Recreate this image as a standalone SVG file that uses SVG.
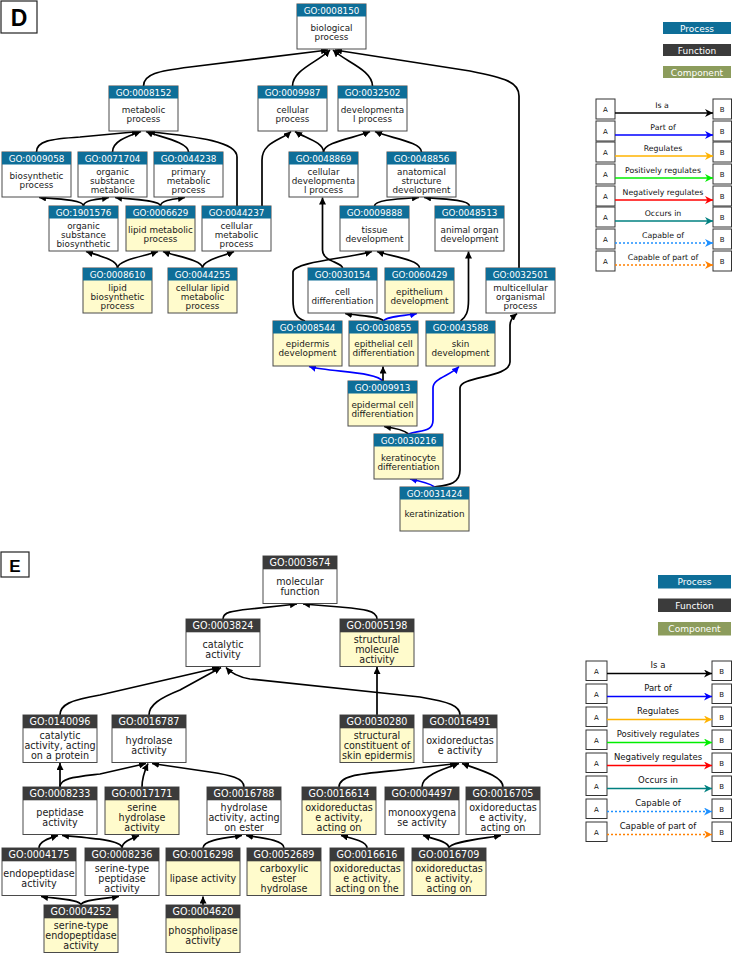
<svg xmlns="http://www.w3.org/2000/svg" width="733" height="960" viewBox="0 0 733 960">
<style>
.bg{fill:#fff}
.nw{fill:#fff;stroke:#4a4a4a;stroke-width:1}
.ny{fill:#fffbcc;stroke:#4a4a4a;stroke-width:1}
.hp{fill:#0e6e98}
.hf{fill:#3b3b3b}
.ht{font-family:"DejaVu Sans",sans-serif;font-size:8.8px;fill:#fff;text-anchor:middle}
.bt{font-family:"DejaVu Sans",sans-serif;font-size:8.8px;fill:#1a1a1a;text-anchor:middle}
.E .ht,.E .bt{font-size:9.6px}
.ed{fill:none;stroke:#000;stroke-width:1.7}
.ed.p{stroke:#0000ff}
.pl{font-family:"Liberation Sans",Arial,sans-serif;font-weight:bold;fill:#000;text-anchor:middle}
.pb{fill:#fff;stroke:#222;stroke-width:1.2}
.lg{font-family:"DejaVu Sans",sans-serif;fill:#fff;text-anchor:middle;font-size:9px}
.ab{fill:#fff;stroke:#333;stroke-width:1}
.abt{font-family:"DejaVu Sans",sans-serif;font-size:7px;fill:#111;text-anchor:middle}
.ll{font-family:"DejaVu Sans",sans-serif;fill:#111;text-anchor:middle}
.ln{fill:none;stroke-width:1.6}
</style>
<defs>
<marker id="mk" viewBox="0 0 10 10" refX="10" refY="5" markerWidth="7" markerHeight="7" markerUnits="userSpaceOnUse" orient="auto"><path d="M0,0 L10,5 L0,10 z" fill="#000"/></marker>
<marker id="mb" viewBox="0 0 10 10" refX="10" refY="5" markerWidth="7" markerHeight="7" markerUnits="userSpaceOnUse" orient="auto"><path d="M0,0 L10,5 L0,10 z" fill="#0000ff"/></marker>
<marker id="l0" viewBox="0 0 10 10" refX="10" refY="5" markerWidth="9" markerHeight="8" markerUnits="userSpaceOnUse" orient="auto"><path d="M0,0 L10,5 L0,10 L3,5 z" fill="#000"/></marker>
<marker id="l1" viewBox="0 0 10 10" refX="10" refY="5" markerWidth="9" markerHeight="8" markerUnits="userSpaceOnUse" orient="auto"><path d="M0,0 L10,5 L0,10 L3,5 z" fill="#0000ff"/></marker>
<marker id="l2" viewBox="0 0 10 10" refX="10" refY="5" markerWidth="9" markerHeight="8" markerUnits="userSpaceOnUse" orient="auto"><path d="M0,0 L10,5 L0,10 L3,5 z" fill="#ffb300"/></marker>
<marker id="l3" viewBox="0 0 10 10" refX="10" refY="5" markerWidth="9" markerHeight="8" markerUnits="userSpaceOnUse" orient="auto"><path d="M0,0 L10,5 L0,10 L3,5 z" fill="#00ee00"/></marker>
<marker id="l4" viewBox="0 0 10 10" refX="10" refY="5" markerWidth="9" markerHeight="8" markerUnits="userSpaceOnUse" orient="auto"><path d="M0,0 L10,5 L0,10 L3,5 z" fill="#ff0000"/></marker>
<marker id="l5" viewBox="0 0 10 10" refX="10" refY="5" markerWidth="9" markerHeight="8" markerUnits="userSpaceOnUse" orient="auto"><path d="M0,0 L10,5 L0,10 L3,5 z" fill="#008080"/></marker>
<marker id="l6" viewBox="0 0 10 10" refX="10" refY="5" markerWidth="9" markerHeight="8" markerUnits="userSpaceOnUse" orient="auto"><path d="M0,0 L10,5 L0,10 L3,5 z" fill="#1e90ff"/></marker>
<marker id="l7" viewBox="0 0 10 10" refX="10" refY="5" markerWidth="9" markerHeight="8" markerUnits="userSpaceOnUse" orient="auto"><path d="M0,0 L10,5 L0,10 L3,5 z" fill="#ff8000"/></marker>
</defs>
<rect class="bg" x="0" y="0" width="733" height="960"/>

<!-- Panel labels -->
<g id="labelD"><rect class="pb" x="1" y="1" width="36" height="32"/><text class="pl" x="19" y="26" font-size="23">D</text></g>
<g id="labelE"><rect class="pb" x="1" y="552" width="28" height="25"/><text class="pl" x="15" y="571.5" font-size="17">E</text></g>

<!-- ===== Panel D connectors ===== -->
<g id="edgesD">
<path class="ed" marker-end="url(#mk)" d="M143.5,86 C143.5,74 158,71 190,67 L328,50"/>
<path class="ed" marker-end="url(#mk)" d="M292.5,86 C292.5,70 318,62 330,50"/>
<path class="ed" marker-end="url(#mk)" d="M372.5,86 C372.5,70 346,62 333,50"/>
<path class="ed" marker-end="url(#mk)" d="M519,268 L519,96 C519,82 505,78 470,71 L335,50"/>
<path class="ed" marker-end="url(#mk)" d="M36.5,152 C36.5,141 50,139 80,137 L139,131.5"/>
<path class="ed" marker-end="url(#mk)" d="M112.5,152 C112.5,142 125,137 141,131.5"/>
<path class="ed" marker-end="url(#mk)" d="M188.5,152 C188.5,142 160,137 146,131.5"/>
<path class="ed" marker-end="url(#mk)" d="M237,206 L237,157 C237,142 200,137 148,131.5"/>
<path class="ed" marker-end="url(#mk)" d="M262,206 L262,160 C262,142 282,140 291,131.5"/>
<path class="ed" marker-end="url(#mk)" d="M323.5,152 C323.5,142 305,138 295,131.5"/>
<path class="ed" marker-end="url(#mk)" d="M323.5,152 C323.5,142 355,138 370,131.5"/>
<path class="ed" marker-end="url(#mk)" d="M421.5,152 C421.5,142 390,138 375,131.5"/>
<path class="ed" marker-end="url(#mk)" d="M374.5,206 C374.5,200 396,199 419,197.5"/>
<path class="ed" marker-end="url(#mk)" d="M469.5,206 C469.5,200 446,199 424,197.5"/>
<path class="ed" marker-end="url(#mk)" d="M83.5,206 C83.5,200 60,199 39,197.5"/>
<path class="ed" marker-end="url(#mk)" d="M83.5,206 C83.5,200 98,199 109,197.5"/>
<path class="ed" marker-end="url(#mk)" d="M160.5,206 C160.5,200 130,199 115,197.5"/>
<path class="ed" marker-end="url(#mk)" d="M160.5,206 C160.5,200 174,199 185,197.5"/>
<path class="ed" marker-end="url(#mk)" d="M117.5,268 C117.5,260 100,256 86,251.5"/>
<path class="ed" marker-end="url(#mk)" d="M117.5,268 C117.5,260 145,256 158,251.5"/>
<path class="ed" marker-end="url(#mk)" d="M202.5,268 C202.5,260 175,256 163,251.5"/>
<path class="ed" marker-end="url(#mk)" d="M202.5,268 C202.5,260 224,256 234,251.5"/>
<path class="ed" marker-end="url(#mk)" d="M342.5,268 C342.5,262 322.5,262 322.5,250 L322.5,197.5"/>
<path class="ed" marker-end="url(#mk)" d="M305,321 C296,318 293,312 293,300 L293,272 C293,262 350,258 372,251.5"/>
<path class="ed" marker-end="url(#mk)" d="M419.5,268 C419.5,260 390,256 377,251.5"/>
<path class="ed" marker-end="url(#mk)" d="M383.5,321 C380,316 360,316 345,313.5"/>
<path class="ed p" marker-end="url(#mb)" d="M383.5,321 C387,316 405,316 417,313.5"/>
<path class="ed" marker-end="url(#mk)" d="M460.5,321 C466,317 468.5,312 468.5,300 L468.5,251.5"/>
<path class="ed p" marker-end="url(#mb)" d="M382.5,381 C378,372 330,372 309,366.5"/>
<path class="ed" marker-end="url(#mk)" d="M383,381 L383,366.5"/>
<path class="ed" marker-end="url(#mk)" d="M408.5,434 C404,430 395,428 384,426.5"/>
<path class="ed p" marker-end="url(#mb)" d="M408.5,434 C419,430 433,433 433,420 L433,388 C433,378 450,376 459,366.5"/>
<path class="ed p" marker-end="url(#mb)" d="M434.5,487 C430,483 420,481 410,479"/>
<path class="ed" marker-end="url(#mk)" d="M434.5,487 C448,485 460,484 460,470 L460,388 C460,376 510,378 510,362 L510,325 C510,319 514,316 517,313.5"/>
</g>

<!-- ===== Panel D nodes ===== -->
<g id="GO0008150"><rect class="nw" x="297" y="4" width="69" height="45"/><rect class="hp" x="297" y="4" width="69" height="12.5"/><text class="ht" x="331.5" y="13.5">GO:0008150</text><text class="bt"><tspan x="331.5" y="31.4">biological</tspan><tspan x="331.5" y="40.4">process</tspan></text></g>
<g id="GO0008152"><rect class="nw" x="109" y="86" width="69" height="45"/><rect class="hp" x="109" y="86" width="69" height="12.5"/><text class="ht" x="143.5" y="95.5">GO:0008152</text><text class="bt"><tspan x="143.5" y="113.4">metabolic</tspan><tspan x="143.5" y="122.4">process</tspan></text></g>
<g id="GO0009987"><rect class="nw" x="258" y="86" width="69" height="45"/><rect class="hp" x="258" y="86" width="69" height="12.5"/><text class="ht" x="292.5" y="95.5">GO:0009987</text><text class="bt"><tspan x="292.5" y="113.4">cellular</tspan><tspan x="292.5" y="122.4">process</tspan></text></g>
<g id="GO0032502"><rect class="nw" x="338" y="86" width="69" height="45"/><rect class="hp" x="338" y="86" width="69" height="12.5"/><text class="ht" x="372.5" y="95.5">GO:0032502</text><text class="bt"><tspan x="372.5" y="113.4">developmenta</tspan><tspan x="372.5" y="122.4">l process</tspan></text></g>
<g id="GO0009058"><rect class="nw" x="2" y="152" width="69" height="45"/><rect class="hp" x="2" y="152" width="69" height="12.5"/><text class="ht" x="36.5" y="161.5">GO:0009058</text><text class="bt"><tspan x="36.5" y="179.4">biosynthetic</tspan><tspan x="36.5" y="188.4">process</tspan></text></g>
<g id="GO0071704"><rect class="nw" x="78" y="152" width="69" height="45"/><rect class="hp" x="78" y="152" width="69" height="12.5"/><text class="ht" x="112.5" y="161.5">GO:0071704</text><text class="bt"><tspan x="112.5" y="174.9">organic</tspan><tspan x="112.5" y="183.9">substance</tspan><tspan x="112.5" y="192.9">metabolic</tspan></text></g>
<g id="GO0044238"><rect class="nw" x="154" y="152" width="69" height="45"/><rect class="hp" x="154" y="152" width="69" height="12.5"/><text class="ht" x="188.5" y="161.5">GO:0044238</text><text class="bt"><tspan x="188.5" y="174.9">primary</tspan><tspan x="188.5" y="183.9">metabolic</tspan><tspan x="188.5" y="192.9">process</tspan></text></g>
<g id="GO0048869"><rect class="nw" x="289" y="152" width="69" height="45"/><rect class="hp" x="289" y="152" width="69" height="12.5"/><text class="ht" x="323.5" y="161.5">GO:0048869</text><text class="bt"><tspan x="323.5" y="174.9">cellular</tspan><tspan x="323.5" y="183.9">developmenta</tspan><tspan x="323.5" y="192.9">l process</tspan></text></g>
<g id="GO0048856"><rect class="nw" x="387" y="152" width="69" height="45"/><rect class="hp" x="387" y="152" width="69" height="12.5"/><text class="ht" x="421.5" y="161.5">GO:0048856</text><text class="bt"><tspan x="421.5" y="174.9">anatomical</tspan><tspan x="421.5" y="183.9">structure</tspan><tspan x="421.5" y="192.9">development</tspan></text></g>
<g id="GO1901576"><rect class="nw" x="49" y="206" width="69" height="45"/><rect class="hp" x="49" y="206" width="69" height="12.5"/><text class="ht" x="83.5" y="215.5">GO:1901576</text><text class="bt"><tspan x="83.5" y="228.9">organic</tspan><tspan x="83.5" y="237.9">substance</tspan><tspan x="83.5" y="246.9">biosynthetic</tspan></text></g>
<g id="GO0006629"><rect class="ny" x="126" y="206" width="69" height="45"/><rect class="hp" x="126" y="206" width="69" height="12.5"/><text class="ht" x="160.5" y="215.5">GO:0006629</text><text class="bt"><tspan x="160.5" y="233.4">lipid metabolic</tspan><tspan x="160.5" y="242.4">process</tspan></text></g>
<g id="GO0044237"><rect class="nw" x="202" y="206" width="69" height="45"/><rect class="hp" x="202" y="206" width="69" height="12.5"/><text class="ht" x="236.5" y="215.5">GO:0044237</text><text class="bt"><tspan x="236.5" y="228.9">cellular</tspan><tspan x="236.5" y="237.9">metabolic</tspan><tspan x="236.5" y="246.9">process</tspan></text></g>
<g id="GO0009888"><rect class="nw" x="340" y="206" width="69" height="45"/><rect class="hp" x="340" y="206" width="69" height="12.5"/><text class="ht" x="374.5" y="215.5">GO:0009888</text><text class="bt"><tspan x="374.5" y="233.4">tissue</tspan><tspan x="374.5" y="242.4">development</tspan></text></g>
<g id="GO0048513"><rect class="nw" x="435" y="206" width="69" height="45"/><rect class="hp" x="435" y="206" width="69" height="12.5"/><text class="ht" x="469.5" y="215.5">GO:0048513</text><text class="bt"><tspan x="469.5" y="233.4">animal organ</tspan><tspan x="469.5" y="242.4">development</tspan></text></g>
<g id="GO0008610"><rect class="ny" x="83" y="268" width="69" height="45"/><rect class="hp" x="83" y="268" width="69" height="12.5"/><text class="ht" x="117.5" y="277.5">GO:0008610</text><text class="bt"><tspan x="117.5" y="290.9">lipid</tspan><tspan x="117.5" y="299.9">biosynthetic</tspan><tspan x="117.5" y="308.9">process</tspan></text></g>
<g id="GO0044255"><rect class="ny" x="168" y="268" width="69" height="45"/><rect class="hp" x="168" y="268" width="69" height="12.5"/><text class="ht" x="202.5" y="277.5">GO:0044255</text><text class="bt"><tspan x="202.5" y="290.9">cellular lipid</tspan><tspan x="202.5" y="299.9">metabolic</tspan><tspan x="202.5" y="308.9">process</tspan></text></g>
<g id="GO0030154"><rect class="nw" x="308" y="268" width="69" height="45"/><rect class="hp" x="308" y="268" width="69" height="12.5"/><text class="ht" x="342.5" y="277.5">GO:0030154</text><text class="bt"><tspan x="342.5" y="295.4">cell</tspan><tspan x="342.5" y="304.4">differentiation</tspan></text></g>
<g id="GO0060429"><rect class="ny" x="385" y="268" width="69" height="45"/><rect class="hp" x="385" y="268" width="69" height="12.5"/><text class="ht" x="419.5" y="277.5">GO:0060429</text><text class="bt"><tspan x="419.5" y="295.4">epithelium</tspan><tspan x="419.5" y="304.4">development</tspan></text></g>
<g id="GO0032501"><rect class="nw" x="486" y="268" width="69" height="45"/><rect class="hp" x="486" y="268" width="69" height="12.5"/><text class="ht" x="520.5" y="277.5">GO:0032501</text><text class="bt"><tspan x="520.5" y="290.9">multicellular</tspan><tspan x="520.5" y="299.9">organismal</tspan><tspan x="520.5" y="308.9">process</tspan></text></g>
<g id="GO0008544"><rect class="ny" x="273" y="321" width="69" height="45"/><rect class="hp" x="273" y="321" width="69" height="12.5"/><text class="ht" x="307.5" y="330.5">GO:0008544</text><text class="bt"><tspan x="307.5" y="347">epidermis</tspan><tspan x="307.5" y="356">development</tspan></text></g>
<g id="GO0030855"><rect class="ny" x="349" y="321" width="69" height="45"/><rect class="hp" x="349" y="321" width="69" height="12.5"/><text class="ht" x="383.5" y="330.5">GO:0030855</text><text class="bt"><tspan x="383.5" y="347">epithelial cell</tspan><tspan x="383.5" y="356">differentiation</tspan></text></g>
<g id="GO0043588"><rect class="ny" x="426" y="321" width="69" height="45"/><rect class="hp" x="426" y="321" width="69" height="12.5"/><text class="ht" x="460.5" y="330.5">GO:0043588</text><text class="bt"><tspan x="460.5" y="347">skin</tspan><tspan x="460.5" y="356">development</tspan></text></g>
<g id="GO0009913"><rect class="ny" x="348" y="381" width="69" height="45"/><rect class="hp" x="348" y="381" width="69" height="12.5"/><text class="ht" x="382.5" y="390.5">GO:0009913</text><text class="bt"><tspan x="382.5" y="408">epidermal cell</tspan><tspan x="382.5" y="417">differentiation</tspan></text></g>
<g id="GO0030216"><rect class="ny" x="374" y="434" width="69" height="45"/><rect class="hp" x="374" y="434" width="69" height="12.5"/><text class="ht" x="408.5" y="443.5">GO:0030216</text><text class="bt"><tspan x="408.5" y="461">keratinocyte</tspan><tspan x="408.5" y="470">differentiation</tspan></text></g>
<g id="GO0031424"><rect class="ny" x="400" y="487" width="69" height="44"/><rect class="hp" x="400" y="487" width="69" height="12.5"/><text class="ht" x="434.5" y="496.5">GO:0031424</text><text class="bt"><tspan x="434.5" y="516.5">keratinization</tspan></text></g>

<!-- ===== Legend D ===== -->
<g id="legendD">
<rect class="hp" x="663" y="22" width="68" height="12"/><text class="lg" x="697" y="31.5">Process</text>
<rect class="hf" x="663" y="44" width="68" height="12"/><text class="lg" x="697" y="53.5">Function</text>
<rect fill="#8c9c5c" x="663" y="66" width="68" height="12"/><text class="lg" x="697" y="75.5" fill="#f2f2f2">Component</text>
<g font-size="7.8">
<rect class="ab" x="596" y="99" width="19" height="20"/><text class="abt" x="605.5" y="111.5">A</text><rect class="ab" x="713" y="99" width="18.5" height="20"/><text class="abt" x="722.2" y="111.5">B</text><line class="ln" x1="615" y1="113" x2="713" y2="113" stroke="#000" marker-end="url(#l0)"/><text class="ll" x="662" y="107.5" font-size="7.8">Is a</text>
<rect class="ab" x="596" y="121" width="19" height="20"/><text class="abt" x="605.5" y="133.5">A</text><rect class="ab" x="713" y="121" width="18.5" height="20"/><text class="abt" x="722.2" y="133.5">B</text><line class="ln" x1="615" y1="135" x2="713" y2="135" stroke="#0000ff" marker-end="url(#l1)"/><text class="ll" x="663" y="129.5" font-size="7.8">Part of</text>
<rect class="ab" x="596" y="142" width="19" height="20"/><text class="abt" x="605.5" y="154.5">A</text><rect class="ab" x="713" y="142" width="18.5" height="20"/><text class="abt" x="722.2" y="154.5">B</text><line class="ln" x1="615" y1="156" x2="713" y2="156" stroke="#ffb300" marker-end="url(#l2)"/><text class="ll" x="663" y="150.5" font-size="7.8">Regulates</text>
<rect class="ab" x="596" y="164" width="19" height="20"/><text class="abt" x="605.5" y="176.5">A</text><rect class="ab" x="713" y="164" width="18.5" height="20"/><text class="abt" x="722.2" y="176.5">B</text><line class="ln" x1="615" y1="178" x2="713" y2="178" stroke="#00ee00" marker-end="url(#l3)"/><text class="ll" x="663" y="172.5" font-size="7.8">Positively regulates</text>
<rect class="ab" x="596" y="186" width="19" height="20"/><text class="abt" x="605.5" y="198.5">A</text><rect class="ab" x="713" y="186" width="18.5" height="20"/><text class="abt" x="722.2" y="198.5">B</text><line class="ln" x1="615" y1="200" x2="713" y2="200" stroke="#ff0000" marker-end="url(#l4)"/><text class="ll" x="663" y="194.5" font-size="7.8">Negatively regulates</text>
<rect class="ab" x="596" y="207" width="19" height="20"/><text class="abt" x="605.5" y="219.5">A</text><rect class="ab" x="713" y="207" width="18.5" height="20"/><text class="abt" x="722.2" y="219.5">B</text><line class="ln" x1="615" y1="221" x2="713" y2="221" stroke="#008080" marker-end="url(#l5)"/><text class="ll" x="663" y="215.5" font-size="7.8">Occurs in</text>
<rect class="ab" x="596" y="229" width="19" height="20"/><text class="abt" x="605.5" y="241.5">A</text><rect class="ab" x="713" y="229" width="18.5" height="20"/><text class="abt" x="722.2" y="241.5">B</text><line class="ln" x1="615" y1="243" x2="713" y2="243" stroke="#1e90ff" stroke-dasharray="2,2" marker-end="url(#l6)"/><text class="ll" x="663" y="237.5" font-size="7.8">Capable of</text>
<rect class="ab" x="596" y="251" width="19" height="20"/><text class="abt" x="605.5" y="263.5">A</text><rect class="ab" x="713" y="251" width="18.5" height="20"/><text class="abt" x="722.2" y="263.5">B</text><line class="ln" x1="615" y1="265" x2="713" y2="265" stroke="#ff8000" stroke-dasharray="2,2" marker-end="url(#l7)"/><text class="ll" x="663" y="259.5" font-size="7.8">Capable of part of</text>
</g>
</g>

<!-- ===== Panel E connectors ===== -->
<g id="edgesE">
<path class="ed" marker-end="url(#mk)" d="M223,619 C223,612 232,611 250,609 L297,604"/>
<path class="ed" marker-end="url(#mk)" d="M377,619 C377,610 362,609 340,607 L303,604"/>
<path class="ed" marker-end="url(#mk)" d="M377,715 L377,667"/>
<path class="ed" marker-end="url(#mk)" d="M460,715 C460,706 450,702 420,697 L250,679 C238,677 231,673 226,667.5"/>
<path class="ed" marker-end="url(#mk)" d="M60,715 C60,705 70,700 100,695 L219,667.5"/>
<path class="ed" marker-end="url(#mk)" d="M149,715 C149,705 160,698 180,690 L221,667.5"/>
<path class="ed" marker-end="url(#mk)" d="M60,787 L60,763"/>
<path class="ed" marker-end="url(#mk)" d="M60,787 C60,778 75,777 100,774 L146,763.5"/>
<path class="ed" marker-end="url(#mk)" d="M142,787 C142,777 145,770 148,763.5"/>
<path class="ed" marker-end="url(#mk)" d="M244,787 C244,778 230,775 210,772 L152,763.5"/>
<path class="ed" marker-end="url(#mk)" d="M39,848 C39,841 50,838 58,835.5"/>
<path class="ed" marker-end="url(#mk)" d="M122,848 C122,840 90,838 62,835.5"/>
<path class="ed" marker-end="url(#mk)" d="M122,848 C122,842 130,839 139,835.5"/>
<path class="ed" marker-end="url(#mk)" d="M81,905 C81,900 60,899 41,896.5"/>
<path class="ed" marker-end="url(#mk)" d="M81,905 C81,900 100,899 119,896.5"/>
<path class="ed" marker-end="url(#mk)" d="M203,848 C203,840 225,838 242,835.5"/>
<path class="ed" marker-end="url(#mk)" d="M284,848 C284,840 262,838 246,835.5"/>
<path class="ed" marker-end="url(#mk)" d="M203,905 L203,896.5"/>
<path class="ed" marker-end="url(#mk)" d="M339,787 C339,775 360,774 400,770 L457,763.5"/>
<path class="ed" marker-end="url(#mk)" d="M422,787 C422,776 440,770 459,763.5"/>
<path class="ed" marker-end="url(#mk)" d="M503,787 C503,776 480,770 462,763.5"/>
<path class="ed" marker-end="url(#mk)" d="M367,848 C367,842 355,839 341,835.5"/>
<path class="ed" marker-end="url(#mk)" d="M449,848 C449,842 435,839 423,835.5"/>
<path class="ed" marker-end="url(#mk)" d="M449,848 C449,842 480,839 501,835.5"/>
</g>

<!-- ===== Panel E nodes ===== -->
<g class="E">
<g id="GO0003674"><rect class="nw" x="263" y="556" width="74" height="47.5"/><rect class="hf" x="263" y="556" width="74" height="13.3"/><text class="ht" x="300" y="566">GO:0003674</text><text class="bt"><tspan x="300" y="585">molecular</tspan><tspan x="300" y="594.7">function</tspan></text></g>
<g id="GO0003824"><rect class="nw" x="186" y="619" width="74" height="47.5"/><rect class="hf" x="186" y="619" width="74" height="13.3"/><text class="ht" x="223" y="629">GO:0003824</text><text class="bt"><tspan x="223" y="648">catalytic</tspan><tspan x="223" y="657.7">activity</tspan></text></g>
<g id="GO0005198"><rect class="ny" x="340" y="619" width="74" height="47.5"/><rect class="hf" x="340" y="619" width="74" height="13.3"/><text class="ht" x="377" y="629">GO:0005198</text><text class="bt"><tspan x="377" y="643.1">structural</tspan><tspan x="377" y="652.8">molecule</tspan><tspan x="377" y="662.5">activity</tspan></text></g>
<g id="GO0140096"><rect class="nw" x="23" y="715" width="74" height="47.5"/><rect class="hf" x="23" y="715" width="74" height="13.3"/><text class="ht" x="60" y="725">GO:0140096</text><text class="bt"><tspan x="60" y="739.1">catalytic</tspan><tspan x="60" y="748.8">activity, acting</tspan><tspan x="60" y="758.5">on a protein</tspan></text></g>
<g id="GO0016787"><rect class="nw" x="112" y="715" width="74" height="47.5"/><rect class="hf" x="112" y="715" width="74" height="13.3"/><text class="ht" x="149" y="725">GO:0016787</text><text class="bt"><tspan x="149" y="744">hydrolase</tspan><tspan x="149" y="753.7">activity</tspan></text></g>
<g id="GO0030280"><rect class="ny" x="340" y="715" width="74" height="47.5"/><rect class="hf" x="340" y="715" width="74" height="13.3"/><text class="ht" x="377" y="725">GO:0030280</text><text class="bt"><tspan x="377" y="739.1">structural</tspan><tspan x="377" y="748.8">constituent of</tspan><tspan x="377" y="758.5">skin epidermis</tspan></text></g>
<g id="GO0016491"><rect class="nw" x="423" y="715" width="74" height="47.5"/><rect class="hf" x="423" y="715" width="74" height="13.3"/><text class="ht" x="460" y="725">GO:0016491</text><text class="bt"><tspan x="460" y="744">oxidoreductas</tspan><tspan x="460" y="753.7">e activity</tspan></text></g>
<g id="GO0008233"><rect class="nw" x="23" y="787" width="74" height="47.5"/><rect class="hf" x="23" y="787" width="74" height="13.3"/><text class="ht" x="60" y="797">GO:0008233</text><text class="bt"><tspan x="60" y="816">peptidase</tspan><tspan x="60" y="825.7">activity</tspan></text></g>
<g id="GO0017171"><rect class="ny" x="105" y="787" width="74" height="47.5"/><rect class="hf" x="105" y="787" width="74" height="13.3"/><text class="ht" x="142" y="797">GO:0017171</text><text class="bt"><tspan x="142" y="811.1">serine</tspan><tspan x="142" y="820.8">hydrolase</tspan><tspan x="142" y="830.5">activity</tspan></text></g>
<g id="GO0016788"><rect class="nw" x="207" y="787" width="74" height="47.5"/><rect class="hf" x="207" y="787" width="74" height="13.3"/><text class="ht" x="244" y="797">GO:0016788</text><text class="bt"><tspan x="244" y="811.1">hydrolase</tspan><tspan x="244" y="820.8">activity, acting</tspan><tspan x="244" y="830.5">on ester</tspan></text></g>
<g id="GO0016614"><rect class="ny" x="302" y="787" width="74" height="47.5"/><rect class="hf" x="302" y="787" width="74" height="13.3"/><text class="ht" x="339" y="797">GO:0016614</text><text class="bt"><tspan x="339" y="811.1">oxidoreductas</tspan><tspan x="339" y="820.8">e activity,</tspan><tspan x="339" y="830.5">acting on</tspan></text></g>
<g id="GO0004497"><rect class="nw" x="385" y="787" width="74" height="47.5"/><rect class="hf" x="385" y="787" width="74" height="13.3"/><text class="ht" x="422" y="797">GO:0004497</text><text class="bt"><tspan x="422" y="816">monooxygena</tspan><tspan x="422" y="825.7">se activity</tspan></text></g>
<g id="GO0016705"><rect class="nw" x="466" y="787" width="74" height="47.5"/><rect class="hf" x="466" y="787" width="74" height="13.3"/><text class="ht" x="503" y="797">GO:0016705</text><text class="bt"><tspan x="503" y="811.1">oxidoreductas</tspan><tspan x="503" y="820.8">e activity,</tspan><tspan x="503" y="830.5">acting on</tspan></text></g>
<g id="GO0004175"><rect class="nw" x="2" y="848" width="74" height="47.5"/><rect class="hf" x="2" y="848" width="74" height="13.3"/><text class="ht" x="39" y="858">GO:0004175</text><text class="bt"><tspan x="39" y="877">endopeptidase</tspan><tspan x="39" y="886.7">activity</tspan></text></g>
<g id="GO0008236"><rect class="nw" x="85" y="848" width="74" height="47.5"/><rect class="hf" x="85" y="848" width="74" height="13.3"/><text class="ht" x="122" y="858">GO:0008236</text><text class="bt"><tspan x="122" y="872.1">serine-type</tspan><tspan x="122" y="881.8">peptidase</tspan><tspan x="122" y="891.5">activity</tspan></text></g>
<g id="GO0016298"><rect class="ny" x="166" y="848" width="74" height="47.5"/><rect class="hf" x="166" y="848" width="74" height="13.3"/><text class="ht" x="203" y="858">GO:0016298</text><text class="bt"><tspan x="203" y="881.8">lipase activity</tspan></text></g>
<g id="GO0052689"><rect class="ny" x="247" y="848" width="74" height="47.5"/><rect class="hf" x="247" y="848" width="74" height="13.3"/><text class="ht" x="284" y="858">GO:0052689</text><text class="bt"><tspan x="284" y="872.1">carboxylic</tspan><tspan x="284" y="881.8">ester</tspan><tspan x="284" y="891.5">hydrolase</tspan></text></g>
<g id="GO0016616"><rect class="ny" x="330" y="848" width="74" height="47.5"/><rect class="hf" x="330" y="848" width="74" height="13.3"/><text class="ht" x="367" y="858">GO:0016616</text><text class="bt"><tspan x="367" y="872.1">oxidoreductas</tspan><tspan x="367" y="881.8">e activity,</tspan><tspan x="367" y="891.5">acting on the</tspan></text></g>
<g id="GO0016709"><rect class="ny" x="412" y="848" width="74" height="47.5"/><rect class="hf" x="412" y="848" width="74" height="13.3"/><text class="ht" x="449" y="858">GO:0016709</text><text class="bt"><tspan x="449" y="872.1">oxidoreductas</tspan><tspan x="449" y="881.8">e activity,</tspan><tspan x="449" y="891.5">acting on</tspan></text></g>
<g id="GO0004252"><rect class="ny" x="44" y="905" width="74" height="47.5"/><rect class="hf" x="44" y="905" width="74" height="13.3"/><text class="ht" x="81" y="915">GO:0004252</text><text class="bt"><tspan x="81" y="929.1">serine-type</tspan><tspan x="81" y="938.8">endopeptidase</tspan><tspan x="81" y="948.5">activity</tspan></text></g>
<g id="GO0004620"><rect class="ny" x="166" y="905" width="74" height="47.5"/><rect class="hf" x="166" y="905" width="74" height="13.3"/><text class="ht" x="203" y="915">GO:0004620</text><text class="bt"><tspan x="203" y="934">phospholipase</tspan><tspan x="203" y="943.7">activity</tspan></text></g>
</g>

<!-- ===== Legend E ===== -->
<g id="legendE">
<rect class="hp" x="658" y="575" width="73" height="13.5"/><text class="lg" x="694.5" y="585.2" font-size="9.6">Process</text>
<rect class="hf" x="658" y="598.5" width="73" height="13.5"/><text class="lg" x="694.5" y="608.7" font-size="9.6">Function</text>
<rect fill="#8c9c5c" x="658" y="622" width="73" height="13.5"/><text class="lg" x="694.5" y="632.2" font-size="9.6" fill="#f2f2f2">Component</text>
<rect class="ab" x="586" y="661" width="21" height="19.5"/><text class="abt" x="596.5" y="673.5">A</text><rect class="ab" x="712" y="661" width="19.5" height="19.5"/><text class="abt" x="721.7" y="673.5">B</text><line class="ln" x1="607" y1="673.5" x2="712" y2="673.5" stroke="#000" marker-end="url(#l0)"/><text class="ll" x="658" y="668" font-size="8.5">Is a</text>
<rect class="ab" x="586" y="684" width="21" height="19.5"/><text class="abt" x="596.5" y="696.5">A</text><rect class="ab" x="712" y="684" width="19.5" height="19.5"/><text class="abt" x="721.7" y="696.5">B</text><line class="ln" x1="607" y1="696.5" x2="712" y2="696.5" stroke="#0000ff" marker-end="url(#l1)"/><text class="ll" x="658" y="691" font-size="8.5">Part of</text>
<rect class="ab" x="586" y="707" width="21" height="19.5"/><text class="abt" x="596.5" y="719.5">A</text><rect class="ab" x="712" y="707" width="19.5" height="19.5"/><text class="abt" x="721.7" y="719.5">B</text><line class="ln" x1="607" y1="719.5" x2="712" y2="719.5" stroke="#ffb300" marker-end="url(#l2)"/><text class="ll" x="658" y="714" font-size="8.5">Regulates</text>
<rect class="ab" x="586" y="730" width="21" height="19.5"/><text class="abt" x="596.5" y="742.5">A</text><rect class="ab" x="712" y="730" width="19.5" height="19.5"/><text class="abt" x="721.7" y="742.5">B</text><line class="ln" x1="607" y1="742.5" x2="712" y2="742.5" stroke="#00ee00" marker-end="url(#l3)"/><text class="ll" x="658" y="737" font-size="8.5">Positively regulates</text>
<rect class="ab" x="586" y="753" width="21" height="19.5"/><text class="abt" x="596.5" y="765.5">A</text><rect class="ab" x="712" y="753" width="19.5" height="19.5"/><text class="abt" x="721.7" y="765.5">B</text><line class="ln" x1="607" y1="765.5" x2="712" y2="765.5" stroke="#ff0000" marker-end="url(#l4)"/><text class="ll" x="658" y="760" font-size="8.5">Negatively regulates</text>
<rect class="ab" x="586" y="776" width="21" height="19.5"/><text class="abt" x="596.5" y="788.5">A</text><rect class="ab" x="712" y="776" width="19.5" height="19.5"/><text class="abt" x="721.7" y="788.5">B</text><line class="ln" x1="607" y1="788.5" x2="712" y2="788.5" stroke="#008080" marker-end="url(#l5)"/><text class="ll" x="658" y="783" font-size="8.5">Occurs in</text>
<rect class="ab" x="586" y="799" width="21" height="19.5"/><text class="abt" x="596.5" y="811.5">A</text><rect class="ab" x="712" y="799" width="19.5" height="19.5"/><text class="abt" x="721.7" y="811.5">B</text><line class="ln" x1="607" y1="811.5" x2="712" y2="811.5" stroke="#1e90ff" stroke-dasharray="2,2" marker-end="url(#l6)"/><text class="ll" x="658" y="806" font-size="8.5">Capable of</text>
<rect class="ab" x="586" y="822" width="21" height="19.5"/><text class="abt" x="596.5" y="834.5">A</text><rect class="ab" x="712" y="822" width="19.5" height="19.5"/><text class="abt" x="721.7" y="834.5">B</text><line class="ln" x1="607" y1="834.5" x2="712" y2="834.5" stroke="#ff8000" stroke-dasharray="2,2" marker-end="url(#l7)"/><text class="ll" x="658" y="829" font-size="8.5">Capable of part of</text>
</g>
</svg>
